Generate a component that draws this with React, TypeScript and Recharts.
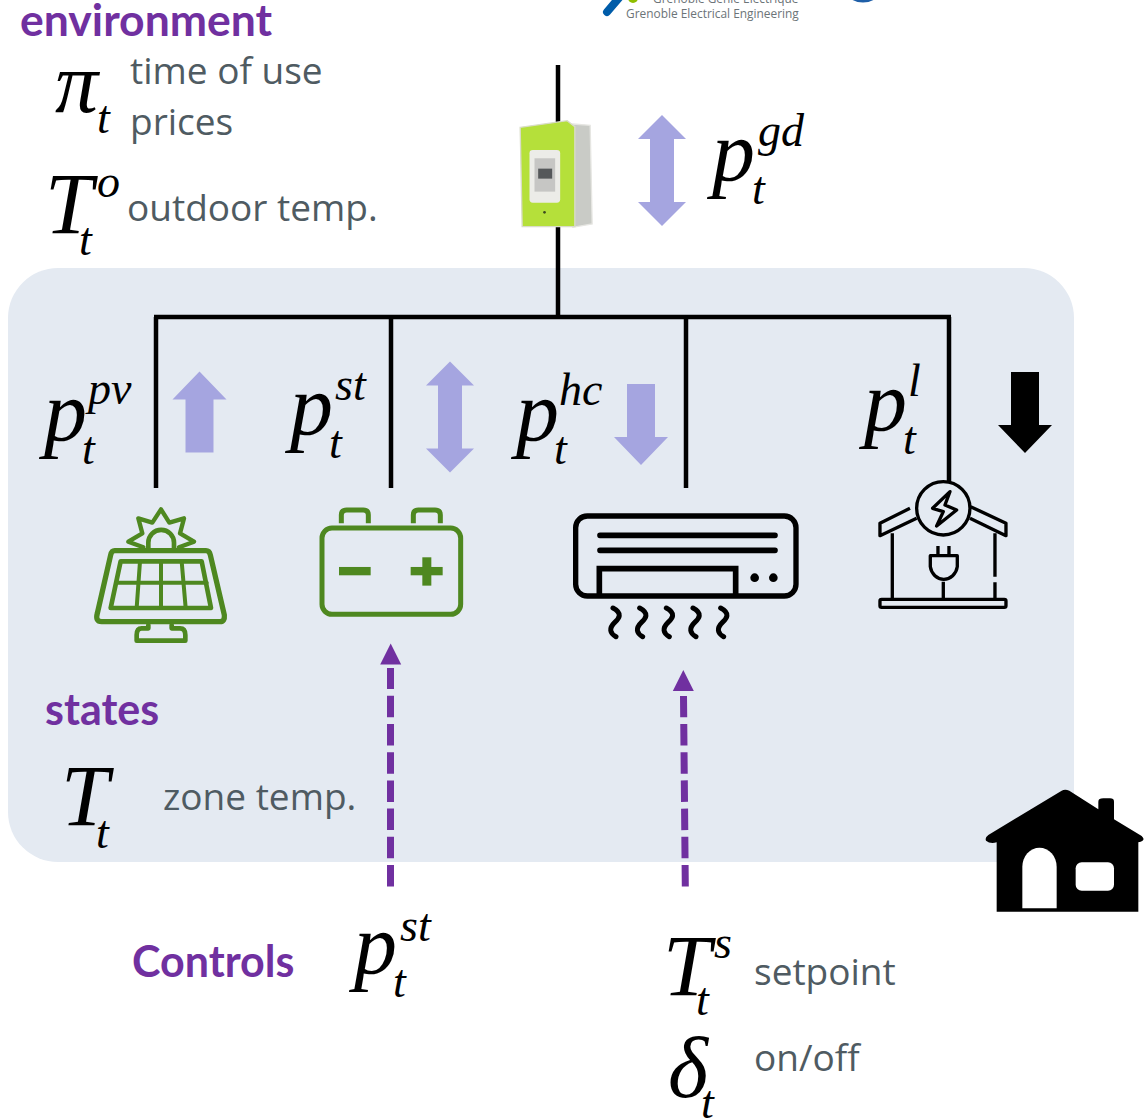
import React from 'react';
import { ScatterChart, Scatter, XAxis, YAxis, ReferenceArea } from 'recharts';

const W = 1144;
const H = 1118;

const PURPLE = '#7030a0';
const GREY = '#4f5b62';
const BLUE = '#a5a5e0';
const GREEN = '#4e8820';
const SERIF = '"Liberation Serif", serif';
const SANS = '"Open Sans", sans-serif';
const HEAD = 'Lato, sans-serif';

// network wires, in picture units
const feederWire = [{ x: 558, y: 65 }, { x: 558, y: 316 }];
const busWire = [{ x: 154, y: 317 }, { x: 951, y: 317 }];
const pvWire = [{ x: 156, y: 317 }, { x: 156, y: 488 }];
const storageWire = [{ x: 391, y: 317 }, { x: 391, y: 488 }];
const hvacWire = [{ x: 686, y: 317 }, { x: 686, y: 488 }];
const loadWire = [{ x: 949, y: 317 }, { x: 949, y: 482 }];

// control signals
const storageControl = [{ x: 390.5, y: 886.5 }, { x: 390.5, y: 668 }];
const hvacControl = [{ x: 685.3, y: 886.5 }, { x: 683.5, y: 696 }];
const controlTips = [{ x: 390.7, y: 643.5 }, { x: 683.3, y: 670 }];

// power flow arrows
const bothWayFlows = [{ x: 662, y: 170.5 }, { x: 450, y: 417 }];
const upFlows = [{ x: 199.5, y: 412 }];
const downFlows = [{ x: 641, y: 424.5 }];
const loadFlows = [{ x: 1025, y: 412.5 }];

// icons, located by their centres
const solarPanel = [{ x: 161, y: 575 }];
const battery = [{ x: 391, y: 563.3 }];
const airConditioner = [{ x: 686, y: 576.7 }];
const plugHouse = [{ x: 943.3, y: 543.3 }];
const homeIcon = [{ x: 1065, y: 850 }];
const meter = [{ x: 555.5, y: 173.3 }];
const logoMark = [{ x: 620, y: 0 }];
const logoSeal = [{ x: 863, y: 0 }];

// text
const titleHeading = [{ x: 20, y: 36, text: 'environment' }];
const headings = [
  { x: 45, y: 725, text: 'states' },
  { x: 132, y: 977, text: 'Controls' },
];
const notes = [
  { x: 130, y: 84, text: 'time of use' },
  { x: 130, y: 135, text: 'prices' },
  { x: 127, y: 221, text: 'outdoor temp.' },
  { x: 163, y: 810, text: 'zone temp.' },
  { x: 754, y: 985, text: 'setpoint' },
  { x: 754, y: 1071, text: 'on/off' },
];
const logoLines = [
  { x: 653, y: 3, text: 'Grenoble Génie Électrique' },
  { x: 626, y: 18, text: 'Grenoble Electrical Engineering' },
];

// symbols: base letter with its subscript and superscript anchors
const symbols = [
  { x: 55, y: 112, base: 'π', subX: 97, subY: 133 },
  { x: 45, y: 233, base: 'T', subX: 79, subY: 255, sup: 'o', supX: 97, supY: 197 },
  { x: 712, y: 180, base: 'p', subX: 752, subY: 204, sup: 'gd', supX: 758, supY: 146 },
  { x: 44, y: 440, base: 'p', subX: 82, subY: 464, sup: 'pv', supX: 88, supY: 404 },
  { x: 290, y: 434, base: 'p', subX: 329, subY: 458, sup: 'st', supX: 335, supY: 400 },
  { x: 516, y: 440, base: 'p', subX: 554, subY: 464, sup: 'hc', supX: 559, supY: 405 },
  { x: 864, y: 430, base: 'p', subX: 903, subY: 454, sup: 'l', supX: 908, supY: 396 },
  { x: 61, y: 825, base: 'T', subX: 96, subY: 848 },
  { x: 354, y: 973, base: 'p', subX: 393, subY: 997, sup: 'st', supX: 400, supY: 941 },
  { x: 663, y: 995, base: 'T', subX: 696, subY: 1015, sup: 's', supX: 714, supY: 958 },
  { x: 668, y: 1097, base: 'δ', subX: 701, subY: 1118 },
];

const noDot = () => <g />;

const Wire = (data: any[]) => (
  <Scatter data={data} isAnimationActive={false} shape={noDot} line={{ stroke: '#000', strokeWidth: 4.5 }} />
);

const ControlLine = (data: any[]) => (
  <Scatter
    data={data}
    isAnimationActive={false}
    shape={noDot}
    line={{ stroke: PURPLE, strokeWidth: 7, strokeDasharray: '21.5 6.7' }}
  />
);

const arrowShape = (kind: 'both' | 'up' | 'down', fill: string) => ({ cx, cy }: any) => {
  const half = kind === 'both' ? 55.5 : 40.5;
  const hw = kind === 'both' ? 24 : 27;
  const sw = kind === 'both' ? 12 : 14;
  const hh = kind === 'both' ? 24 : 28;
  const t = cy - half;
  const b = cy + half;
  let pts = '';
  if (kind === 'both') {
    pts = `${cx},${t} ${cx + hw},${t + hh} ${cx + sw},${t + hh} ${cx + sw},${b - hh} ${cx + hw},${b - hh} ${cx},${b} ${cx - hw},${b - hh} ${cx - sw},${b - hh} ${cx - sw},${t + hh} ${cx - hw},${t + hh}`;
  } else if (kind === 'up') {
    pts = `${cx},${t} ${cx + hw},${t + hh} ${cx + sw},${t + hh} ${cx + sw},${b} ${cx - sw},${b} ${cx - sw},${t + hh} ${cx - hw},${t + hh}`;
  } else {
    pts = `${cx},${b} ${cx + hw},${b - hh} ${cx + sw},${b - hh} ${cx + sw},${t} ${cx - sw},${t} ${cx - sw},${b - hh} ${cx - hw},${b - hh}`;
  }
  return <polygon points={pts} fill={fill} />;
};

const tipShape = ({ cx, cy }: any) => (
  <polygon points={`${cx},${cy} ${cx + 10.5},${cy + 21} ${cx - 10.5},${cy + 21}`} fill={PURPLE} />
);

// icons are traced at 3x, then scaled back around their centre
const iconFrame = (cx: number, cy: number, zx: number, zy: number, body: React.ReactNode) => (
  <g transform={`translate(${cx},${cy}) scale(${1 / 3}) translate(${-zx},${-zy})`}>{body}</g>
);

const SolarShape = ({ cx, cy }: any) =>
  iconFrame(
    cx,
    cy,
    243,
    255,
    <g fill="none" stroke={GREEN} strokeLinejoin="round" strokeLinecap="round">
      <path strokeWidth={16} d="M104 182 H378 Q388 182 391 195 L433 375 Q435 395 420 395 H65 Q45 395 52 370 L92 195 Q95 182 104 182 Z" />
      <path strokeWidth={14} d="M122 214 H365 L393 354 H92 Z" />
      <path strokeWidth={12} d="M180 214 L170 354 M243 214 V354 M305 214 L317 354 M108 278 H380" />
      <path strokeWidth={14} d="M205 405 V415 H185 Q170 415 170 435 V452 H316 V435 Q316 415 300 415 H275 V405" />
      <path strokeWidth={14} d="M205 175 V158 A38 38 0 0 1 282 158 V175" />
      <path strokeWidth={13} d="M190 172 L145 155 L187 130 L175 85 L217 98 L243 58 L268 98 L312 85 L300 130 L342 155 L297 172" />
    </g>,
  );

const BatteryShape = ({ cx, cy }: any) =>
  iconFrame(
    cx,
    cy,
    933,
    220,
    <g>
      <rect x={726} y={114} width={416} height={259} rx={30} fill="none" stroke={GREEN} strokeWidth={15} />
      <path
        fill="none"
        stroke={GREEN}
        strokeWidth={15}
        d="M784 100 V75 Q784 60 800 60 H850 Q865 60 865 75 V100 M1000 100 V75 Q1000 60 1015 60 H1065 Q1081 60 1081 75 V100"
      />
      <rect x={777} y={231} width={95} height={25} fill={GREEN} />
      <rect x={992} y={231} width={96} height={25} fill={GREEN} />
      <rect x={1027} y={202} width={27} height={85} fill={GREEN} />
    </g>,
  );

const AirConShape = ({ cx, cy }: any) =>
  iconFrame(
    cx,
    cy,
    378,
    320,
    <g fill="none" stroke="#000">
      <rect x={47} y={138} width={661} height={240} rx={35} strokeWidth={16} />
      <path strokeWidth={17} strokeLinecap="round" d="M120 196 H645 M120 241 H645" />
      <path strokeWidth={17} d="M118 375 V296 H527 V375" />
      <circle cx={584} cy={323} r={13} fill="#000" stroke="none" />
      <circle cx={640} cy={323} r={13} fill="#000" stroke="none" />
      {[165, 245, 325, 405, 488].map((x) => (
        <path
          key={x}
          strokeWidth={15}
          strokeLinecap="round"
          d={`M${x - 6} 414 C${x + 24} 430 ${x + 12} 445 ${x} 456 C${x - 20} 475 ${x - 15} 490 ${x + 3} 500`}
        />
      ))}
    </g>,
  );

const PlugHouseShape = ({ cx, cy }: any) =>
  iconFrame(
    cx,
    cy,
    1150,
    220,
    <g fill="none" stroke="#000" strokeWidth={10} strokeLinejoin="round">
      <circle cx={1150} cy={115} r={80} />
      <path d="M1170 65 L1118 115 L1150 125 L1130 168 L1190 120 L1155 105 Z" />
      <path d="M1050 115 L960 160 V197 L1070 145 M1232 110 L1338 160 V197 L1230 145" />
      <path d="M997 190 V385 M1305 190 V320 M1305 337 V385 M1150 335 V385" />
      <rect x={960} y={388} width={378} height={24} rx={5} />
      <path d="M1134 228 V255 M1167 228 V255 M1111 257 H1192 V290 A41 45 0 0 1 1111 290 Z" />
    </g>,
  );

const HomeShape = ({ cx, cy }: any) =>
  iconFrame(
    cx,
    cy,
    315,
    240,
    <g>
      <path
        fill="#000"
        d="M85 195 L305 62 Q315 56 328 62 L415 118 V95 Q415 85 430 85 H450 Q462 85 462 95 V148 L545 198 Q560 212 535 217 V425 H110 V217 Q90 222 78 212 Q74 203 85 195 Z"
      />
      <path fill="#fff" d="M187 415 V290 A51 56 0 0 1 290 290 V415 Z" />
      <rect x={347} y={277} width={115} height={85} rx={18} fill="#fff" />
    </g>,
  );

const MeterShape = ({ cx, cy }: any) =>
  iconFrame(
    cx,
    cy,
    170,
    520,
    <g>
      <path fill="#c9cbc6" stroke="#e6e6e2" strokeWidth={4} d="M222 372 L274 376 L280 672 L222 682 Z" />
      <path fill="#b5e03a" stroke="#d9dcc8" strokeWidth={4} d="M64 382 L205 362 L228 380 V680 H70 Z" />
      <rect x={92} y={450} width={92} height={158} rx={10} fill="#ecece8" />
      <rect x={107} y={475} width={62} height={100} fill="#c6c6c4" />
      <rect x={118} y={506} width={42} height={30} fill="#55585a" />
      <circle cx={137} cy={637} r={4} fill="#3d4a20" />
    </g>,
  );

const logoMarkShape = ({ cx, cy }: any) => (
  <g>
    <path d={`M${cx - 13} ${cy + 12} L${cx + 4} ${cy - 8}`} stroke="#005ca9" strokeWidth={8} strokeLinecap="round" />
    <circle cx={cx + 13} cy={cy - 2} r={5} fill="#8fbe00" />
  </g>
);

const logoSealShape = ({ cx, cy }: any) => (
  <circle cx={cx} cy={cy - 20} r={21} fill="none" stroke="#1f5fa8" strokeWidth={3} />
);

const titleShape = ({ cx, cy, payload }: any) => (
  <text x={cx} y={cy} fontFamily={HEAD} fontWeight={700} fontSize={44.5} fill={PURPLE}>
    {payload.text}
  </text>
);

const headingShape = ({ cx, cy, payload }: any) => (
  <text x={cx} y={cy} fontFamily={HEAD} fontWeight={700} fontSize={43} fill={PURPLE}>
    {payload.text}
  </text>
);

const noteShape = ({ cx, cy, payload }: any) => (
  <text x={cx} y={cy} fontFamily={SANS} fontSize={37} fill={GREY}>
    {payload.text}
  </text>
);

const logoShape = ({ cx, cy, payload }: any) => (
  <text x={cx} y={cy} fontFamily={SANS} fontSize={11.9} fill="#6c7478">
    {payload.text}
  </text>
);

const symbolShape = ({ cx, cy, payload: s }: any) => (
  <g fontFamily={SERIF} fontStyle="italic" fill="#000">
    <text x={cx} y={cy} fontSize={86}>
      {s.base}
    </text>
    <text x={cx + s.subX - s.x} y={cy + s.subY - s.y} fontSize={46}>
      t
    </text>
    {s.sup && (
      <text x={cx + s.supX - s.x} y={cy + s.supY - s.y} fontSize={46}>
        {s.sup}
      </text>
    )}
  </g>
);

const panelShape = (props: any) => {
  const { x, y, width, height } = props;
  return <rect x={x} y={y} width={width} height={height} rx={50} fill="#e4eaf2" />;
};

export default function App() {
  return (
    <div style={{ position: 'absolute', left: 0, top: 0, width: W, height: H, background: '#fff' }}>
      <ScatterChart width={W} height={H} margin={{ top: 0, right: 0, bottom: 0, left: 0 }}>
        <XAxis type="number" dataKey="x" domain={[0, W]} hide allowDataOverflow />
        <YAxis type="number" dataKey="y" domain={[0, H]} reversed hide allowDataOverflow />
        <ReferenceArea x1={8} x2={1074} y1={268} y2={862} shape={panelShape} />

        {Wire(feederWire)}
        {Wire(busWire)}
        {Wire(pvWire)}
        {Wire(storageWire)}
        {Wire(hvacWire)}
        {Wire(loadWire)}
        {ControlLine(storageControl)}
        {ControlLine(hvacControl)}

        <Scatter data={controlTips} isAnimationActive={false} shape={tipShape} />
        <Scatter data={bothWayFlows} isAnimationActive={false} shape={arrowShape('both', BLUE)} />
        <Scatter data={upFlows} isAnimationActive={false} shape={arrowShape('up', BLUE)} />
        <Scatter data={downFlows} isAnimationActive={false} shape={arrowShape('down', BLUE)} />
        <Scatter data={loadFlows} isAnimationActive={false} shape={arrowShape('down', '#000')} />

        <Scatter data={meter} isAnimationActive={false} shape={MeterShape} />
        <Scatter data={solarPanel} isAnimationActive={false} shape={SolarShape} />
        <Scatter data={battery} isAnimationActive={false} shape={BatteryShape} />
        <Scatter data={airConditioner} isAnimationActive={false} shape={AirConShape} />
        <Scatter data={plugHouse} isAnimationActive={false} shape={PlugHouseShape} />
        <Scatter data={homeIcon} isAnimationActive={false} shape={HomeShape} />
        <Scatter data={logoMark} isAnimationActive={false} shape={logoMarkShape} />
        <Scatter data={logoSeal} isAnimationActive={false} shape={logoSealShape} />

        <Scatter data={titleHeading} isAnimationActive={false} shape={titleShape} />
        <Scatter data={headings} isAnimationActive={false} shape={headingShape} />
        <Scatter data={notes} isAnimationActive={false} shape={noteShape} />
        <Scatter data={logoLines} isAnimationActive={false} shape={logoShape} />
        <Scatter data={symbols} isAnimationActive={false} shape={symbolShape} />
      </ScatterChart>
    </div>
  );
}
